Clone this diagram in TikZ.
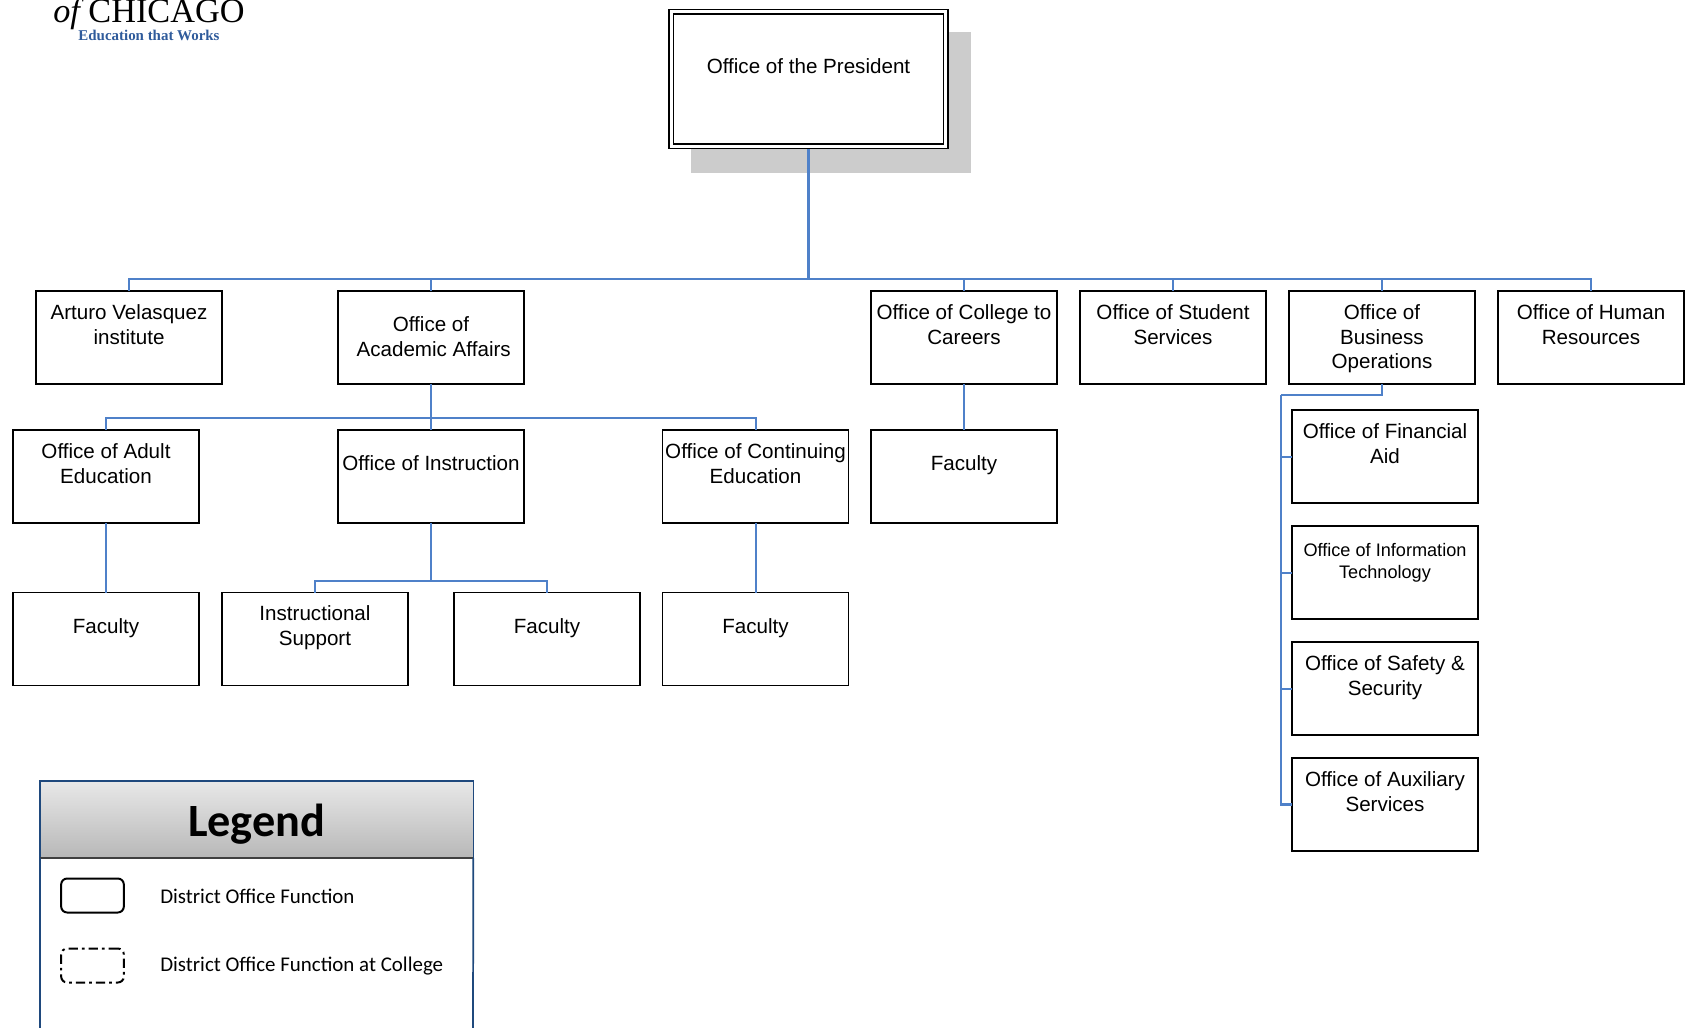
\documentclass[tikz,border=0pt]{standalone}
\usepackage{fontspec}
\setmainfont{Liberation Sans}
\newfontfamily\carlito{Carlito}
\newfontfamily\logofont{Liberation Serif}
\usetikzlibrary{calc}
\definecolor{conn}{HTML}{4F81C9}
\definecolor{navy}{HTML}{1F497D}
\definecolor{logoblue}{HTML}{2F5B9B}
\newcommand{\bt}[2]{\parbox[c][69.75pt][t]{139.5pt}{\centering\vspace*{#1}\strut #2}}
\tikzset{
  orgbox/.style={draw=black,line width=1.1pt,fill=white,inner sep=0pt,outer sep=0pt,
    font=\fontsize{15.45}{18.5}\selectfont},
  link/.style={draw=conn,line width=1.5pt},
  linkthick/.style={draw=conn,line width=2.2pt},
  legendlabel/.style={anchor=west,inner sep=0pt,font=\carlito\fontsize{15.7}{18}\selectfont},
  legendkey/.style={draw=black,line width=1.5pt,rounded corners=4.5pt,minimum width=47pt,minimum height=25.5pt,inner sep=0pt},
}
\begin{document}
\begin{tikzpicture}[x=0.75pt,y=-0.75pt]
\useasboundingbox (0,0) rectangle (1686,1028);
% shadow
\fill[black!20] (691,32) rectangle (971,173);
% logo
\node[anchor=base west,inner sep=0pt,font=\logofont\fontsize{25.7}{28}\selectfont] (logoa) at (53,22) {\textit{of}\hspace{-3pt} CHICAGO};
\node[anchor=base,inner sep=0pt,text=logoblue,font=\logofont\bfseries\fontsize{11.2}{13}\selectfont] (logob) at (149,40.5) {Education that Works};
% coordinates of buses
\coordinate (bus) at (808.5,279);
\coordinate (acadbus) at (431,418);
\coordinate (instrbus) at (431,581);
\coordinate (tk) at (1281,395);
% boxes
\node[orgbox,double,double distance=2.2pt,line width=1.1pt,outer sep=2pt,minimum width=206pt,minimum height=101pt,align=center] (pres) at (808.5,79) {\parbox[c][96pt][t]{190pt}{\centering\vspace*{31pt}\strut Office of the President}};
\node[orgbox] (arturo) at (129,337.5) {\bt{8.7pt}{Arturo Velasquez\\institute}};
\node[orgbox] (acad) at (431,337.5) {\bt{17.7pt}{Office of\\\hspace*{4pt}Academic Affairs}};
\node[orgbox] (college) at (964,337.5) {\bt{8.7pt}{Office of College to\\Careers}};
\node[orgbox] (student) at (1173,337.5) {\bt{8.7pt}{Office of Student\\Services}};
\node[orgbox] (biz) at (1382,337.5) {\bt{8.5pt}{Office of\\Business\\Operations}};
\node[orgbox] (hr) at (1591,337.5) {\bt{8.7pt}{Office of Human\\Resources}};
\node[orgbox] (adult) at (106,476.5) {\bt{8.7pt}{Office of Adult\\Education}};
\node[orgbox] (instr) at (431,476.5) {\bt{17.7pt}{Office of Instruction}};
\node[orgbox] (cont) at (755.5,476.5) {\bt{8.7pt}{Office of Continuing\\Education}};
\node[orgbox] (facc) at (964,476.5) {\bt{17.5pt}{Faculty}};
\node[orgbox] (faca) at (106,639) {\bt{18pt}{Faculty}};
\node[orgbox] (support) at (315,639) {\bt{8.4pt}{Instructional\\Support}};
\node[orgbox] (faci) at (547,639) {\bt{18pt}{Faculty}};
\node[orgbox] (facd) at (755.5,639) {\bt{18pt}{Faculty}};
\node[orgbox] (fin) at (1385,456.5) {\bt{8.7pt}{Office of Financial\\Aid}};
\node[orgbox,font=\fontsize{13.6}{16.6}\selectfont] (info) at (1385,572.5) {\bt{11.4pt}{Office of Information\\Technology}};
\node[orgbox] (safe) at (1385,688.5) {\bt{8.7pt}{Office of Safety \&\\Security}};
\node[orgbox] (aux) at (1385,804.5) {\bt{8.7pt}{Office of Auxiliary\\Services}};
% connectors
\draw[linkthick] (pres.south) -- (bus);
\draw[link] (bus) -| (arturo.north);
\draw[link] (bus) -| (acad.north);
\draw[linkthick] (bus) -| (college.north);
\draw[linkthick] (bus) -| (student.north);
\draw[linkthick] (bus) -| (biz.north);
\draw[link] (bus) -| (hr.north);
\draw[linkthick] (acad.south) -- (acadbus);
\draw[link] (acadbus) -| (adult.north);
\draw[link] (acadbus) -- (instr.north);
\draw[link] (acadbus) -| (cont.north);
\draw[link] (college.south) -- (facc.north);
\draw[link] (adult.south) -- (faca.north);
\draw[linkthick] (instr.south) -- (instrbus);
\draw[link] (instrbus) -| (support.north);
\draw[link] (instrbus) -| (faci.north);
\draw[link] (cont.south) -- (facd.north);
\draw[linkthick] (biz.south) |- (tk);
\draw[link] (tk) |- (fin.west);
\draw[link] (tk) |- (info.west);
\draw[link] (tk) |- (safe.west);
\draw[linkthick] (tk) |- (aux.west);
% legend
\node[anchor=north west,inner sep=0pt,outer sep=0pt,minimum width=325pt,minimum height=57.75pt,
  top color=black!9,bottom color=black!28,draw=navy,line width=1.1pt,
  font=\carlito\bfseries\fontsize{34.7}{38}\selectfont] (leghead) at (40,781) {\raisebox{-3.2pt}[\height][\depth]{Legend}};
\draw[gray!50!black,line width=1.8pt] (leghead.south west) -- (leghead.south east);
\coordinate (legbl) at (40,1030);
\coordinate (legbr) at (473,1030);
\draw[navy,line width=1.3pt] (leghead.south west) -- (legbl);
\draw[navy,line width=1.3pt] (leghead.south east) -- (legbr);
\node[legendkey] (keya) at (92.5,895.5) {};
\node[legendkey,dash pattern=on 7pt off 3pt on 2pt off 3pt] (keyb) at (92.5,965.5) {};
\node[legendlabel] (laba) at (160,896.5) {District Office Function};
\node[legendlabel] (labb) at (160,966.5) {District Office Function at College};
\end{tikzpicture}
\end{document}
